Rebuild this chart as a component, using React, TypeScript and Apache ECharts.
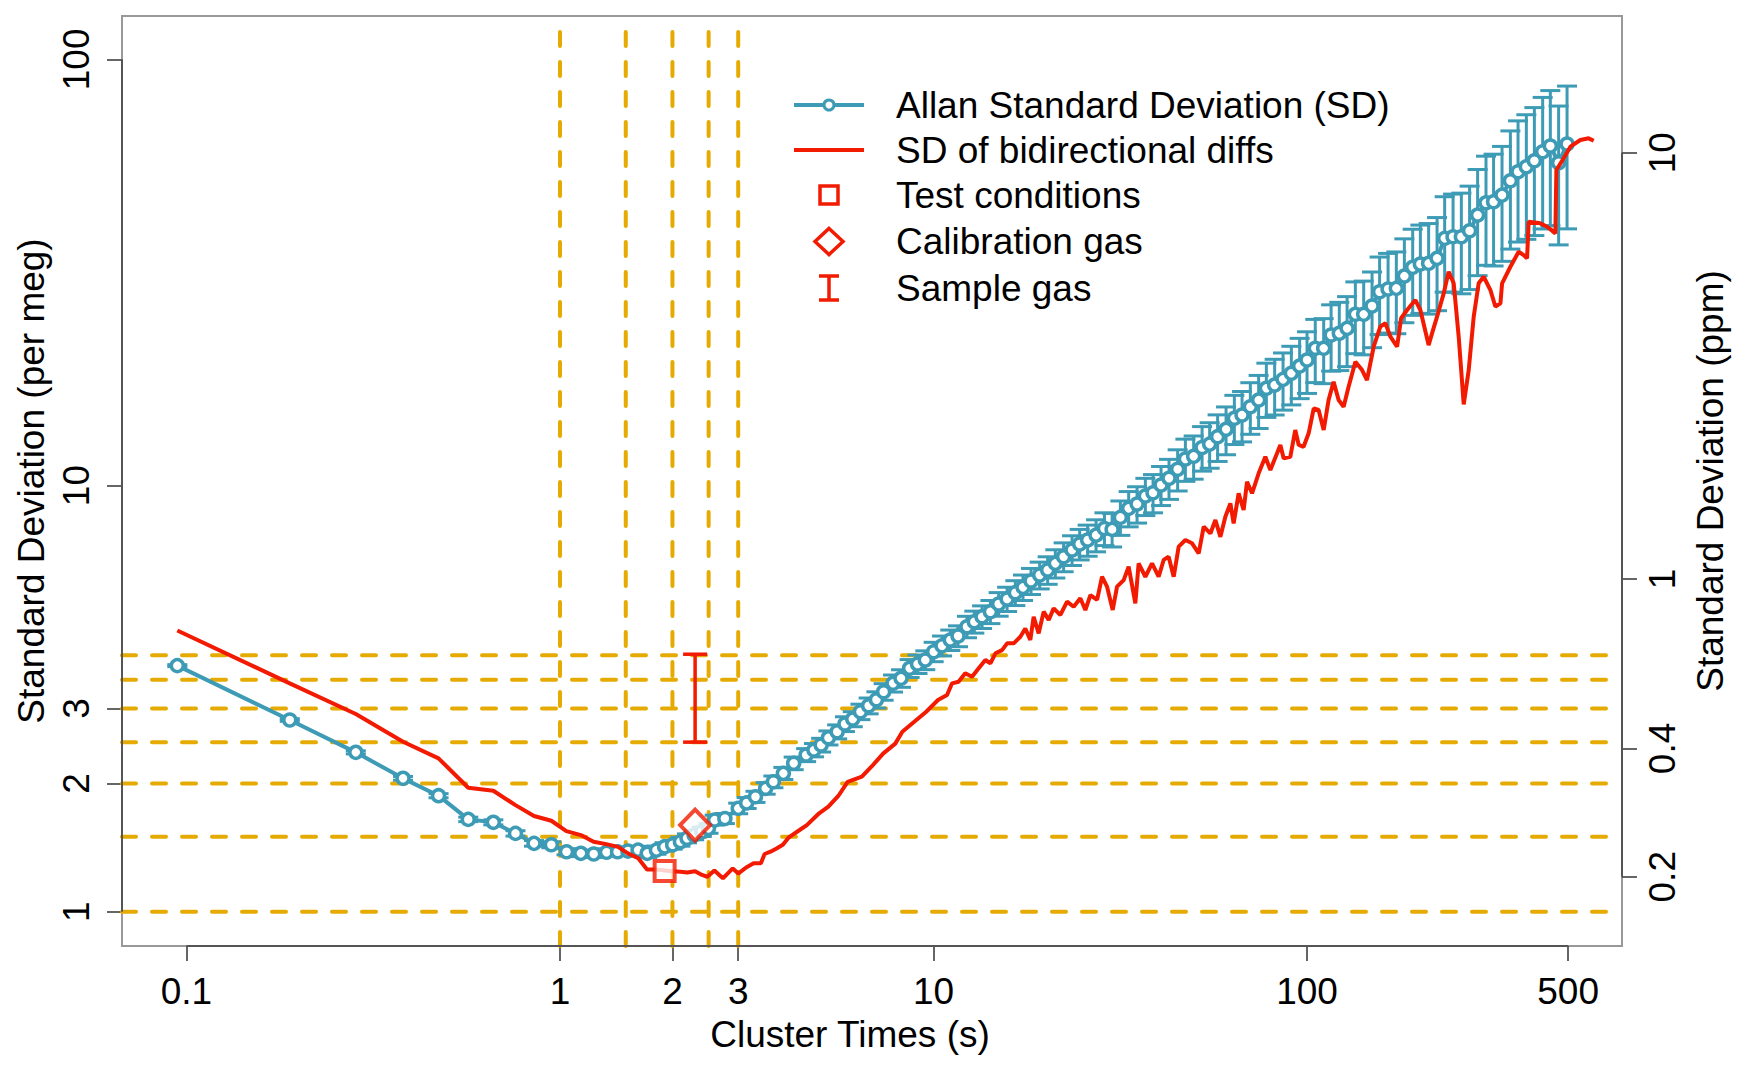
import * as echarts from "echarts";
import { useEffect, useRef } from "react";

const FONT = '"Liberation Sans", Arial, Helvetica, sans-serif';
const BLUE = "#3d9bb5";
const RED = "#f21a00";
const GOLD = "#e6ab02";

// axis extents (per meg on the left, ppm on the right)
const X_MIN = 0.0672;
const X_MAX = 697;
const Y_MIN = 0.831;
const Y_MAX = 126.4;
const PERMEG_PER_PPM = 6.04;

const xTicks = [0.1, 1, 2, 3, 10, 100, 500];
const leftTicks = [1, 2, 3, 10, 100];
const rightTicks = [0.2, 0.4, 1, 10];

const guideTimes = [1, 1.5, 2, 2.5, 3];
const guideSDs = [1, 1.5, 2, 2.5, 3, 3.5, 4];

// Allan standard deviation (per meg) with its error
const allanTau = [
  0.0945, 0.189, 0.284, 0.38, 0.473, 0.568, 0.663, 0.76, 0.852, 0.948,
  1.041, 1.137, 1.231, 1.332, 1.426, 1.52, 1.618, 1.712, 1.812, 1.906,
  2.003, 2.101, 2.188, 2.286, 2.397, 2.498, 2.594, 2.763, 3.0, 3.16,
  3.337, 3.553, 3.727, 3.963, 4.223, 4.56, 4.785, 5.002, 5.232, 5.521,
  5.793, 6.078, 6.373, 6.703, 7.033, 7.353, 7.792, 8.185, 8.63, 9.06,
  9.506, 10.01, 10.54, 11.09, 11.63, 12.29, 12.86, 13.49, 14.2, 14.94,
  15.74, 16.56, 17.36, 18.24, 19.24, 20.21, 21.19, 22.3, 23.49, 24.62,
  25.86, 27.24, 28.68, 30.07, 31.64, 33.3, 35.07, 36.91, 38.7, 40.66,
  42.71, 45.04, 47.24, 49.71, 52.36, 54.86, 57.62, 60.7, 63.89, 66.99,
  70.5, 74.2, 77.82, 81.9, 86.25, 90.78, 95.54, 100, 105.2, 110.8,
  116, 122, 128, 134.7, 141.8, 149.3, 156.4, 164.8, 173.4, 182.2,
  191.8, 201.1, 211.6, 222.9, 233.6, 246, 258.9, 272.4, 286.2, 301.4,
  315.8, 332.7, 350.3, 367.2, 386.5, 406.1, 427.4, 448.1, 471.6, 496.7,
];
const allanSD = [
  3.78, 2.818, 2.366, 2.056, 1.872, 1.647, 1.621, 1.527, 1.447, 1.436,
  1.383, 1.371, 1.366, 1.379, 1.383, 1.388, 1.395, 1.371, 1.395, 1.42,
  1.436, 1.46, 1.487, 1.513, 1.541, 1.569, 1.641, 1.655, 1.748, 1.8,
  1.861, 1.948, 2.018, 2.112, 2.23, 2.332, 2.395, 2.461, 2.559, 2.644,
  2.757, 2.832, 2.946, 3.043, 3.143, 3.282, 3.435, 3.529, 3.725, 3.812,
  3.896, 4.074, 4.209, 4.341, 4.436, 4.664, 4.79, 4.92, 5.058, 5.272,
  5.418, 5.605, 5.77, 5.97, 6.166, 6.335, 6.568, 6.807, 7.058, 7.29,
  7.45, 7.65, 7.93, 7.89, 8.42, 8.84, 9.05, 9.45, 9.62, 10.03,
  10.4, 10.92, 11.54, 11.71, 12.28, 12.51, 13.02, 13.55, 14.38, 14.64,
  15.31, 15.87, 16.91, 17.21, 17.75, 18.34, 19.07, 19.7, 20.99, 20.99,
  22.55, 22.76, 23.38, 25.22, 25.22, 26.38, 28.49, 28.92, 29.02, 31.01,
  32.51, 33.1, 33.22, 34.13, 38.02, 38.36, 38.36, 39.62, 43.12, 46.07,
  46.33, 48.03, 51.91, 54.5, 55.98, 57.83, 60.71, 62.61, 57.2, 63.29,
];
const allanErr = [
  0.02, 0.02, 0.02, 0.021, 0.021, 0.02, 0.022, 0.022, 0.022, 0.023,
  0.023, 0.024, 0.025, 0.026, 0.027, 0.028, 0.029, 0.03, 0.031, 0.032,
  0.034, 0.035, 0.036, 0.038, 0.039, 0.041, 0.044, 0.045, 0.05, 0.053,
  0.056, 0.061, 0.064, 0.069, 0.076, 0.082, 0.086, 0.091, 0.097, 0.1,
  0.11, 0.115, 0.123, 0.13, 0.138, 0.147, 0.158, 0.167, 0.18, 0.19,
  0.198, 0.213, 0.226, 0.24, 0.25, 0.27, 0.284, 0.3, 0.315, 0.336,
  0.355, 0.376, 0.396, 0.42, 0.446, 0.47, 0.5, 0.53, 0.565, 0.6,
  0.625, 0.66, 0.7, 0.714, 0.78, 0.84, 0.885, 0.947, 0.99, 1.055,
  1.12, 1.21, 1.31, 1.36, 1.47, 1.53, 1.63, 1.74, 1.9, 1.98,
  2.12, 2.26, 2.46, 2.57, 2.72, 2.88, 3.08, 3.25, 3.55, 3.65,
  4.0, 4.15, 4.37, 4.83, 4.96, 5.32, 5.88, 6.13, 6.31, 6.91,
  7.43, 7.75, 7.97, 8.41, 9.59, 9.93, 10.18, 10.79, 12.04, 13.2,
  13.58, 14.45, 16.03, 17.23, 18.16, 19.23, 20.71, 21.87, 20.5, 23.27,
];

// SD of bidirectional diffs: [cluster time, SD]
const diffPoints: [number, number][] = [
  [0.0945, 4.57], [0.189, 3.435], [0.284, 2.91], [0.38, 2.506], [0.473, 2.29],
  [0.568, 1.954], [0.663, 1.923], [0.76, 1.779], [0.852, 1.677], [0.948, 1.635],
  [1.04, 1.546], [1.137, 1.513], [1.23, 1.46], [1.33, 1.441], [1.43, 1.42],
  [1.52, 1.371], [1.62, 1.335], [1.71, 1.257], [1.81, 1.257], [1.91, 1.25],
  [2.0, 1.245], [2.1, 1.241], [2.19, 1.236], [2.3, 1.245], [2.4, 1.22],
  [2.48, 1.208], [2.59, 1.25], [2.73, 1.198], [2.9, 1.264], [3.0, 1.229],
  [3.15, 1.27], [3.3, 1.299], [3.45, 1.3], [3.53, 1.366], [3.66, 1.383],
  [3.8, 1.408], [3.95, 1.436], [4.1, 1.495], [4.38, 1.555], [4.58, 1.597],
  [4.94, 1.702], [5.23, 1.764], [5.56, 1.869], [5.89, 2.018], [6.43, 2.074],
  [6.82, 2.189], [7.34, 2.353], [7.9, 2.48], [8.25, 2.644], [8.88, 2.79],
  [9.56, 2.946], [10.28, 3.139], [10.87, 3.224], [11.21, 3.435], [11.67, 3.465],
  [12.16, 3.626], [12.68, 3.559], [13.21, 3.725], [13.77, 3.896], [14.2, 3.826],
  [14.65, 4.04], [15.26, 4.11], [15.74, 4.263], [16.39, 4.263], [17.08, 4.418],
  [17.61, 4.62], [18.16, 4.34], [18.54, 4.92], [19.12, 4.5], [19.72, 5.06],
  [20.34, 4.836], [20.97, 5.15], [21.86, 4.97], [22.78, 5.34], [23.72, 5.195],
  [24.72, 5.44], [25.5, 5.105], [26.3, 5.535], [27.41, 5.39], [28.26, 6.11],
  [29.15, 5.79], [30.18, 5.105], [31.0, 5.79], [32.29, 6.0], [33.3, 6.45],
  [34.7, 5.29], [35.41, 6.57], [36.91, 6.11], [38.46, 6.57], [40.06, 6.11],
  [41.32, 6.69], [42.61, 6.81], [43.96, 6.11], [45.33, 7.19], [47.24, 7.45],
  [49.23, 7.32], [51.28, 6.93], [52.89, 8.01], [55.11, 7.72], [56.84, 8.3],
  [58.62, 7.58], [60.44, 8.45], [62.34, 9.08], [63.61, 8.15], [65.6, 9.59],
  [67.65, 8.76], [69.08, 10.21], [71.25, 9.59], [74.21, 10.68], [77.33, 11.68],
  [79.76, 10.87], [83.13, 11.9], [84.83, 12.45], [86.6, 11.58], [90.2, 11.68],
  [93.0, 13.5], [95.0, 12.45], [97.9, 12.33], [101, 13.26], [104.2, 15.18],
  [107.4, 15.04], [110.8, 13.5], [114.2, 15.87], [117.8, 17.52], [121.5, 15.87],
  [125.3, 15.31], [129.2, 17.05], [134.7, 19.52], [140.4, 18.66], [144.7, 17.68],
  [150.8, 21.17], [157.1, 23.59], [162.1, 24.03], [167.2, 22.35], [174.2, 21.17],
  [178.6, 24.69], [185.3, 25.82], [195, 27.24], [201.1, 25.82], [211.6, 21.36],
  [216.1, 22.76], [222.9, 24.9], [232.2, 28.25], [239.4, 31.74], [247, 29.82],
  [254.7, 22.35], [262.7, 15.5], [270.9, 18.66], [279.4, 24.9], [288.1, 29.82],
  [297.1, 30.9], [309.7, 28.75], [319.4, 26.28], [329.4, 26.76], [332.8, 29.82],
  [350.3, 32.61], [368.6, 35.37], [380.1, 34.74], [388.2, 34.13], [392.1, 41.59],
  [421.3, 41.23], [439.2, 40.48], [462.2, 39.06], [465.1, 55.0], [486.5, 58.6],
  [507, 62.4], [539.2, 64.67], [567.5, 65.27], [585.3, 64.42],
];

const testConditions = [1.906, 1.246];
const calibrationGas = [2.3, 1.597];
const sampleGas = [2.3, 2.5, 4.02]; // time, low, high

const legendItems = [
  "Allan Standard Deviation (SD)",
  "SD of bidirectional diffs",
  "Test conditions",
  "Calibration gas",
  "Sample gas",
];

const fmt = (v: number) => String(+Number(v).toPrecision(3));

function errorBarItem(color: string, halfCap: number, width: number) {
  return (_params: any, api: any) => {
    const x = api.value(0);
    const top = api.coord([x, api.value(2)]);
    const bot = api.coord([x, api.value(1)]);
    const style = { stroke: color, lineWidth: width };
    return {
      type: "group",
      children: [
        { type: "line", shape: { x1: top[0], y1: top[1], x2: bot[0], y2: bot[1] }, style },
        { type: "line", shape: { x1: top[0] - halfCap, y1: top[1], x2: top[0] + halfCap, y2: top[1] }, style },
        { type: "line", shape: { x1: bot[0] - halfCap, y1: bot[1], x2: bot[0] + halfCap, y2: bot[1] }, style },
      ],
    };
  };
}

function buildLegend() {
  const rows = [105, 150, 195, 241.5, 288];
  const x0 = 794;
  const x1 = 864;
  const cx = 829;
  const tx = 896;
  const els: any[] = [];
  legendItems.forEach((label, i) => {
    els.push({
      type: "text",
      x: tx,
      y: rows[i],
      style: { text: label, fontSize: 37, fontFamily: FONT, fill: "#000", verticalAlign: "middle", align: "left" },
    });
  });
  els.push(
    { type: "line", shape: { x1: x0, y1: rows[0], x2: x1, y2: rows[0] }, style: { stroke: BLUE, lineWidth: 4 } },
    { type: "circle", shape: { cx, cy: rows[0], r: 5 }, style: { fill: "#fff", stroke: BLUE, lineWidth: 3 } },
    { type: "line", shape: { x1: x0, y1: rows[1], x2: x1, y2: rows[1] }, style: { stroke: RED, lineWidth: 4 } },
    { type: "rect", shape: { x: cx - 9, y: rows[2] - 9, width: 18, height: 18 }, style: { fill: "#fff", stroke: RED, lineWidth: 3.5 } },
    {
      type: "polygon",
      shape: { points: [[cx, rows[3] - 13], [cx + 14, rows[3]], [cx, rows[3] + 13], [cx - 14, rows[3]]] },
      style: { fill: "#fff", stroke: RED, lineWidth: 3.5 },
    },
    { type: "line", shape: { x1: cx, y1: rows[4] - 12, x2: cx, y2: rows[4] + 12 }, style: { stroke: RED, lineWidth: 3.5 } },
    { type: "line", shape: { x1: cx - 10, y1: rows[4] - 12, x2: cx + 10, y2: rows[4] - 12 }, style: { stroke: RED, lineWidth: 3.5 } },
    { type: "line", shape: { x1: cx - 10, y1: rows[4] + 12, x2: cx + 10, y2: rows[4] + 12 }, style: { stroke: RED, lineWidth: 3.5 } },
  );
  return els;
}

function getOption() {
  const guideStyle = { color: GOLD, width: 4, type: [14, 16], cap: "round" as const };
  const axisSegStyle = { color: "#555", width: 2 };
  const plain = (extra: any) => ({
    type: "line",
    symbol: "none",
    showSymbol: false,
    silent: true,
    animation: false,
    ...extra,
  });

  const series: any[] = [
    ...guideTimes.map((t) => plain({ data: [[t, Y_MIN], [t, Y_MAX]], lineStyle: guideStyle, z: 1 })),
    ...guideSDs.map((v) => plain({ data: [[X_MIN, v], [X_MAX, v]], lineStyle: guideStyle, z: 1 })),
    plain({ data: [[X_MIN, 1], [X_MIN, 100]], lineStyle: axisSegStyle, clip: false, z: 6 }),
    plain({ data: [[0.1, Y_MIN], [500, Y_MIN]], lineStyle: axisSegStyle, clip: false, z: 6 }),
    plain({ data: [[X_MAX, 0.2], [X_MAX, 10]], yAxisIndex: 1, lineStyle: axisSegStyle, clip: false, z: 6 }),
    {
      type: "custom",
      name: "Allan error",
      silent: true,
      z: 2,
      renderItem: errorBarItem(BLUE, 10, 3),
      encode: { x: 0, y: [1, 2] },
      data: allanTau.map((t, i) => [t, allanSD[i] - allanErr[i], allanSD[i] + allanErr[i]]),
    },
    {
      type: "line",
      name: legendItems[0],
      z: 3,
      silent: true,
      symbol: "circle",
      symbolSize: 12,
      showSymbol: true,
      showAllSymbol: true,
      lineStyle: { color: BLUE, width: 4 },
      itemStyle: { color: "#fff", borderColor: BLUE, borderWidth: 3.5 },
      data: allanTau.map((t, i) => [t, allanSD[i]]),
    },
    plain({ name: legendItems[1], data: diffPoints, lineStyle: { color: RED, width: 4 }, z: 4 }),
    {
      type: "scatter",
      name: legendItems[2],
      z: 5,
      silent: true,
      symbol: "rect",
      symbolSize: 20,
      itemStyle: { color: "#fff", borderColor: RED, borderWidth: 4 },
      data: [testConditions],
    },
    {
      type: "scatter",
      name: legendItems[3],
      z: 5,
      silent: true,
      symbol: "diamond",
      symbolSize: [30, 31],
      itemStyle: { color: "#fff", borderColor: RED, borderWidth: 4 },
      data: [calibrationGas],
    },
    {
      type: "custom",
      name: legendItems[4],
      silent: true,
      z: 5,
      renderItem: errorBarItem(RED, 12, 3.5),
      encode: { x: 0, y: [1, 2] },
      data: [sampleGas],
    },
  ];

  const labelStyle = { fontSize: 37, fontFamily: FONT, color: "#000", formatter: fmt };
  const tickStyle = { show: true, length: 15, lineStyle: { color: "#333", width: 1.5 } };

  return {
    animation: false,
    backgroundColor: "#fff",
    textStyle: { fontFamily: FONT },
    grid: {
      left: 122,
      right: 123,
      top: 16,
      bottom: 123,
      show: true,
      borderColor: "#999",
      borderWidth: 2,
      backgroundColor: "transparent",
      containLabel: false,
      outerBoundsMode: "none",
    },
    xAxis: {
      type: "log",
      logBase: 10,
      min: X_MIN,
      max: X_MAX,
      name: "Cluster Times (s)",
      nameLocation: "middle",
      nameGap: 70,
      nameTextStyle: { fontSize: 37, fontFamily: FONT, color: "#000", padding: [0, 44, 0, 0] },
      axisLine: { show: false },
      axisTick: { ...tickStyle, customValues: xTicks },
      axisLabel: { ...labelStyle, margin: 27, customValues: xTicks },
      splitLine: { show: false },
      minorTick: { show: false },
    },
    yAxis: [
      {
        type: "log",
        logBase: 10,
        min: Y_MIN,
        max: Y_MAX,
        position: "left",
        name: "Standard Deviation (per meg)",
        nameLocation: "middle",
        nameRotate: 90,
        nameGap: 72,
        nameTextStyle: { fontSize: 37, fontFamily: FONT, color: "#000" },
        axisLine: { show: false },
        axisTick: { ...tickStyle, customValues: leftTicks },
        axisLabel: { ...labelStyle, rotate: 90, margin: 27, customValues: leftTicks },
        splitLine: { show: false },
      },
      {
        type: "log",
        logBase: 10,
        min: Y_MIN / PERMEG_PER_PPM,
        max: Y_MAX / PERMEG_PER_PPM,
        position: "right",
        name: "Standard Deviation (ppm)",
        nameLocation: "middle",
        nameRotate: 90,
        nameGap: 70,
        nameTextStyle: { fontSize: 37, fontFamily: FONT, color: "#000" },
        axisLine: { show: false },
        axisTick: { ...tickStyle, customValues: rightTicks },
        axisLabel: { ...labelStyle, rotate: 90, margin: 22, customValues: rightTicks },
        splitLine: { show: false },
      },
    ],
    graphic: buildLegend(),
    series,
  };
}

export default function App() {
  const ref = useRef<HTMLDivElement>(null);

  useEffect(() => {
    if (!ref.current) return;
    const chart = echarts.init(ref.current, null, { renderer: "svg" });
    chart.setOption(getOption() as any);
    return () => {
      chart.dispose();
    };
  }, []);

  return (
    <div
      ref={ref}
      style={{ position: "fixed", left: 0, top: 0, width: 1745, height: 1069, background: "#fff" }}
    />
  );
}
